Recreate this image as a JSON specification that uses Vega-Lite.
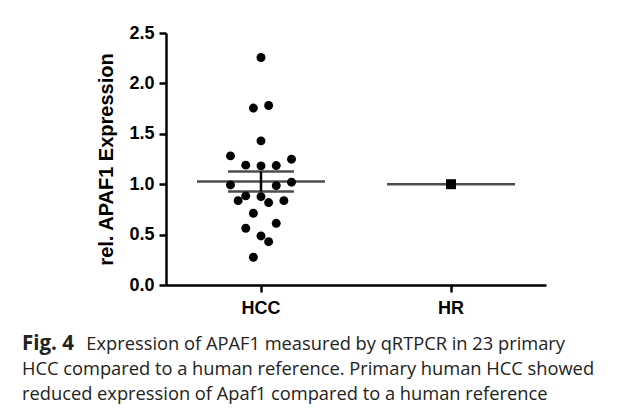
{
  "$schema": "https://vega.github.io/schema/vega-lite/v6.json",
  "width": 380,
  "height": 252,
  "autosize": {"type": "none"},
  "padding": {"left": 166, "top": 33, "right": 81, "bottom": 126},
  "background": "white",
  "config": {
    "view": {"stroke": null},
    "axis": {
      "domainColor": "black",
      "domainWidth": 2.5,
      "tickColor": "black",
      "tickWidth": 2.5,
      "tickSize": 7,
      "labelFont": "Liberation Sans",
      "labelFontWeight": "bold",
      "labelFontSize": 18,
      "labelColor": "black",
      "titleFont": "Liberation Sans",
      "titleFontWeight": "bold",
      "titleFontSize": 20,
      "titleColor": "black",
      "grid": false
    }
  },
  "title": {
    "text": "Fig. 4",
    "orient": "bottom",
    "anchor": "start",
    "frame": "group",
    "dx": -144,
    "offset": 17,
    "font": "Open Sans",
    "fontSize": 20.5,
    "fontWeight": "bold",
    "color": "#222",
    "lineHeight": 25,
    "subtitle": [
      "\u200b\u2003\u2003\u2003\u00a0\u00a0Expression of APAF1 measured by qRTPCR in 23 primary",
      "HCC compared to a human reference. Primary human HCC showed",
      "reduced expression of Apaf1 compared to a human reference"
    ],
    "subtitleFont": "Open Sans",
    "subtitleFontSize": 18.3,
    "subtitleFontWeight": "normal",
    "subtitleColor": "#222",
    "subtitleLineHeight": 25,
    "subtitlePadding": -19
  },
  "datasets": {
    "points": [
      {"group": "HCC", "value": 2.257, "col": 0},
      {"group": "HCC", "value": 1.755, "col": -1},
      {"group": "HCC", "value": 1.781, "col": 1},
      {"group": "HCC", "value": 1.43, "col": 0},
      {"group": "HCC", "value": 1.281, "col": -4},
      {"group": "HCC", "value": 1.248, "col": 4},
      {"group": "HCC", "value": 1.189, "col": -2},
      {"group": "HCC", "value": 1.182, "col": 0},
      {"group": "HCC", "value": 1.185, "col": 2},
      {"group": "HCC", "value": 0.993, "col": -4},
      {"group": "HCC", "value": 1.02, "col": 4},
      {"group": "HCC", "value": 0.986, "col": 2},
      {"group": "HCC", "value": 0.837, "col": -3},
      {"group": "HCC", "value": 0.884, "col": -2},
      {"group": "HCC", "value": 0.877, "col": 0},
      {"group": "HCC", "value": 0.818, "col": 1},
      {"group": "HCC", "value": 0.837, "col": 3},
      {"group": "HCC", "value": 0.712, "col": -1},
      {"group": "HCC", "value": 0.612, "col": 2},
      {"group": "HCC", "value": 0.563, "col": -2},
      {"group": "HCC", "value": 0.487, "col": 0},
      {"group": "HCC", "value": 0.43, "col": 1},
      {"group": "HCC", "value": 0.275, "col": -1},
      {"group": "HR", "value": 1.0, "col": 0}
    ],
    "summary": [
      {"group": "HCC", "mean": 1.026, "lo": 0.927, "hi": 1.125},
      {"group": "HR", "mean": 1.0, "lo": 1.0, "hi": 1.0}
    ]
  },
  "encoding": {
    "x": {
      "field": "group",
      "type": "nominal",
      "sort": ["HCC", "HR"],
      "scale": {"domain": ["HCC", "HR"], "paddingInner": 0, "paddingOuter": 0},
      "axis": {"title": null, "labelAngle": 0, "labelPadding": 7, "bandPosition": 0.5}
    }
  },
  "layer": [
    {
      "data": {"name": "points"},
      "mark": {"type": "point", "filled": true, "opacity": 1, "color": "black"},
      "encoding": {
        "xOffset": {
          "field": "col",
          "type": "quantitative",
          "scale": {"domain": [-4, 4], "range": [64.5, 125.5]}
        },
        "y": {
          "field": "value",
          "type": "quantitative",
          "scale": {"domain": [0, 2.5], "nice": false, "zero": true},
          "axis": {
            "title": "rel. APAF1 Expression",
            "values": [0, 0.5, 1, 1.5, 2, 2.5],
            "format": ".1f",
            "labelPadding": 5,
            "titlePadding": 12
          }
        },
        "shape": {
          "field": "group",
          "type": "nominal",
          "scale": {"domain": ["HCC", "HR"], "range": ["circle", "square"]},
          "legend": null
        },
        "size": {
          "field": "group",
          "type": "nominal",
          "scale": {"domain": ["HCC", "HR"], "range": [80, 100]},
          "legend": null
        }
      }
    },
    {
      "data": {"name": "summary"},
      "mark": {"type": "tick", "color": "black", "size": 128, "thickness": 2.5, "orient": "horizontal"},
      "encoding": {
        "y": {"field": "mean", "type": "quantitative"}
      }
    },
    {
      "data": {"name": "summary"},
      "transform": [{"filter": "datum.group === 'HCC'"}],
      "mark": {"type": "tick", "color": "black", "size": 66, "thickness": 2.5, "orient": "horizontal"},
      "encoding": {
        "y": {"field": "lo", "type": "quantitative"}
      }
    },
    {
      "data": {"name": "summary"},
      "transform": [{"filter": "datum.group === 'HCC'"}],
      "mark": {"type": "tick", "color": "black", "size": 66, "thickness": 2.5, "orient": "horizontal"},
      "encoding": {
        "y": {"field": "hi", "type": "quantitative"}
      }
    },
    {
      "data": {"name": "summary"},
      "transform": [{"filter": "datum.group === 'HCC'"}],
      "mark": {"type": "rule", "color": "black", "strokeWidth": 2.5},
      "encoding": {
        "y": {"field": "lo", "type": "quantitative"},
        "y2": {"field": "hi"}
      }
    }
  ]
}
